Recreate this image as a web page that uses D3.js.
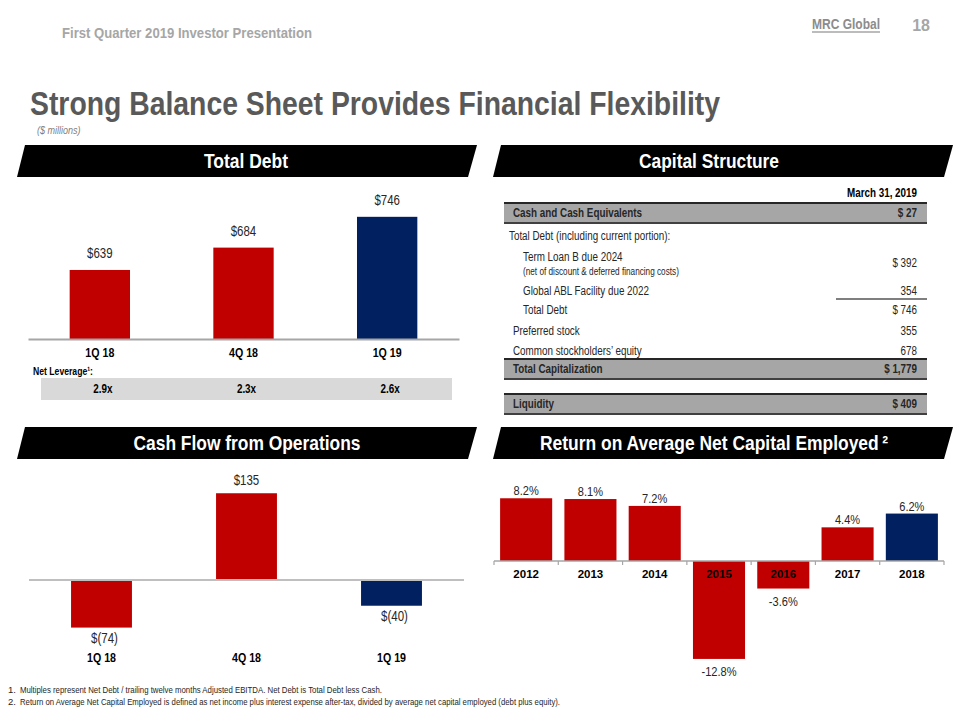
<!DOCTYPE html>
<html><head><meta charset="utf-8">
<script src="https://cdn.jsdelivr.net/npm/d3@7"></script>
<style>
body{margin:0;background:#fff;}
svg{display:block;font-family:"Liberation Sans",Arial,sans-serif;}
</style></head>
<body>
<svg id="c" width="960" height="720"></svg>
<script>
// ---------- data ----------
const debtCats = ["1Q 18", "4Q 18", "1Q 19"];
const debtValues = [639, 684, 746];
const debtLabels = ["$639", "$684", "$746"];
const leverageLabels = ["2.9x", "2.3x", "2.6x"];

const cfoCats = ["1Q 18", "4Q 18", "1Q 19"];
const cfoValues = [-74, 135, -40];
const cfoLabels = ["$(74)", "$135", "$(40)"];

const roYears = ["2012", "2013", "2014", "2015", "2016", "2017", "2018"];
const roValues = [8.2, 8.1, 7.2, -12.8, -3.6, 4.4, 6.2];

const capLabels = ["Cash and Cash Equivalents", "Total Debt (including current portion):", "Term Loan B due 2024",
  "Global ABL Facility due 2022", "Total Debt", "Preferred stock", "Common stockholders’ equity", "Total Capitalization", "Liquidity"];
const capValues = ["$ 27", "", "$ 392", "354", "$ 746", "355", "678", "$ 1,779", "$ 409"];
const capNote = "(net of discount & deferred financing costs)";
const capDate = "March 31, 2019";

const footnotes = [
  "Multiples represent Net Debt / trailing twelve months Adjusted EBITDA. Net Debt is Total Debt less Cash.",
  "Return on Average Net Capital Employed is defined as net income plus interest expense after-tax, divided by average net capital employed (debt plus equity)."
];

// ---------- styles ----------
const RED = "#c00000", NAVY = "#002060";
const svg = d3.select("#c");
const colorFor = (i, n) => i === n - 1 ? NAVY : RED;
const FF = "Liberation Sans, Arial, sans-serif";

// ---------- header ----------
svg.append("text").attr("x", 62).attr("y", 38).attr("font-size", 15).attr("font-weight", "bold")
  .attr("fill", "#a6a6a6").attr("textLength", 250).attr("lengthAdjust", "spacingAndGlyphs")
  .text("First Quarter 2019 Investor Presentation");
svg.append("text").attr("x", 812).attr("y", 29).attr("font-size", 15).attr("font-weight", "bold")
  .attr("fill", "#8c8c8c").attr("textLength", 68).attr("lengthAdjust", "spacingAndGlyphs").text("MRC Global");
svg.append("line").attr("x1", 812).attr("x2", 880).attr("y1", 32).attr("y2", 32).attr("stroke", "#a6a6a6").attr("stroke-width", 1.5);
svg.append("text").attr("x", 930).attr("y", 31).attr("font-size", 16).attr("font-weight", "bold")
  .attr("fill", "#a6a6a6").attr("text-anchor", "end").attr("class", "wide").text("18");

svg.append("text").attr("x", 30).attr("y", 115).attr("font-size", 34).attr("font-weight", "bold")
  .attr("fill", "#595959").attr("textLength", 690).attr("lengthAdjust", "spacingAndGlyphs")
  .text("Strong Balance Sheet Provides Financial Flexibility");
svg.append("text").attr("x", 37).attr("y", 134).attr("font-size", 11).attr("font-style", "italic")
  .attr("fill", "#7f7f7f").text("($ millions)");

// ---------- section headers ----------
function header(x0, y0, txt, cx, tw) {
  const pts = [[x0 + 8, y0], [x0 + 460, y0], [x0 + 451, y0 + 32], [x0, y0 + 32]];
  svg.append("polygon").attr("points", pts.map(p => p.join(",")).join(" ")).attr("fill", "#000");
  svg.append("text").attr("x", cx).attr("y", y0 + 23).attr("fill", "#fff").attr("text-anchor", "middle")
    .attr("font-size", 21).attr("font-weight", "bold")
    .attr("textLength", tw).attr("lengthAdjust", "spacingAndGlyphs").text(txt);
}
header(17, 145, "Total Debt", 246, 84);
header(493, 145, "Capital Structure", 709, 140);
header(17, 427, "Cash Flow from Operations", 247, 227);
header(493, 427, "Return on Average Net Capital Employed\u2009\u00b2", 714, 348);

// ---------- Total Debt ----------
{
  const x = d3.scaleBand().domain(debtCats).range([28, 459]).paddingInner(0.58).paddingOuter(0.29);
  const y = d3.scaleLinear().domain([500, 800]).range([339, 190]);
  const g = svg.append("g");
  g.selectAll("rect").data(debtValues).join("rect")
    .attr("x", (d, i) => x(debtCats[i])).attr("width", x.bandwidth())
    .attr("y", d => y(d)).attr("height", d => y(500) - y(d))
    .attr("fill", (d, i) => colorFor(i, debtValues.length));
  g.selectAll("text.v").data(debtValues).join("text").attr("class", "v")
    .attr("x", (d, i) => x(debtCats[i]) + x.bandwidth() / 2).attr("y", d => y(d) - 12)
    .attr("text-anchor", "middle").attr("font-size", 14).attr("fill", "#262626")
    .text((d, i) => debtLabels[i]);
  const ax = g.append("g").attr("transform", "translate(0,339)")
    .call(d3.axisBottom(x).tickSize(0).tickPadding(9));
  ax.select(".domain").attr("stroke", "#a6a6a6").attr("stroke-width", 2);
  ax.selectAll("text").attr("font-size", 13).attr("font-weight", "bold").attr("fill", "#000").attr("font-family", FF);
  svg.append("text").attr("x", 33).attr("y", 375).attr("font-size", 11).attr("font-weight", "bold").attr("fill", "#000")
    .attr("textLength", 60).attr("lengthAdjust", "spacingAndGlyphs").text("Net Leverage\u00b9:");
  svg.append("rect").attr("x", 41).attr("y", 378).attr("width", 411).attr("height", 22).attr("fill", "#d9d9d9");
  svg.selectAll("text.lev").data(leverageLabels).join("text").attr("class", "lev")
    .attr("x", (d, i) => x(debtCats[i]) + x.bandwidth() / 2 + 3).attr("y", 393)
    .attr("text-anchor", "middle").attr("font-size", 12).attr("font-weight", "bold").attr("fill", "#000").text(d => d);
}

// ---------- Capital Structure table ----------
{
  const L = 504, R = 927, VX = 917;
  const g = svg.append("g").attr("font-size", 12).attr("fill", "#262626");
  g.append("text").attr("x", VX).attr("y", 197).attr("text-anchor", "end").attr("font-weight", "bold").attr("fill", "#000").text(capDate);
  // row layout: [center y, indent x, bold, band]
  const layout = [[213, 513, true, true], [236, 509, false, false], [257, 523, false, false], [291, 523, false, false],
    [310, 523, false, false], [331, 513, false, false], [351, 513, false, false], [369, 513, true, true], [404, 513, true, true]];
  const valY = [213, 0, 263, 291, 310, 331, 351, 369, 404];
  layout.forEach((r, i) => {
    if (r[3]) {
      g.append("rect").attr("x", L).attr("y", r[0] - 10).attr("width", R - L).attr("height", 20).attr("fill", "#a6a6a6");
      g.append("line").attr("x1", L).attr("x2", R).attr("y1", r[0] - 10).attr("y2", r[0] - 10).attr("stroke", "#262626").attr("stroke-width", 2);
      g.append("line").attr("x1", L).attr("x2", R).attr("y1", r[0] + 10).attr("y2", r[0] + 10).attr("stroke", "#404040").attr("stroke-width", 2);
    }
    g.append("text").attr("x", r[1]).attr("y", r[0] + 4).attr("font-weight", r[2] ? "bold" : "normal").text(capLabels[i]);
    if (capValues[i]) g.append("text").attr("x", VX).attr("y", valY[i] + 4).attr("text-anchor", "end")
      .attr("font-weight", r[2] ? "bold" : "normal").text(capValues[i]);
  });
  g.append("text").attr("x", 523).attr("y", 275).attr("font-size", 10).text(capNote);
  g.append("line").attr("x1", 836).attr("x2", R).attr("y1", 299).attr("y2", 299).attr("stroke", "#000").attr("stroke-width", 1.2);
}

// ---------- Cash Flow from Operations ----------
{
  const x = d3.scaleBand().domain(cfoCats).range([29, 464]).paddingInner(0.58).paddingOuter(0.29);
  const y = d3.scaleLinear().domain([-100, 150]).range([644.3, 483.6]);
  const g = svg.append("g");
  g.selectAll("rect").data(cfoValues).join("rect")
    .attr("x", (d, i) => x(cfoCats[i])).attr("width", x.bandwidth())
    .attr("y", d => y(Math.max(0, d))).attr("height", d => Math.abs(y(d) - y(0)))
    .attr("fill", (d, i) => colorFor(i, cfoValues.length));
  g.append("line").attr("x1", 29).attr("x2", 464).attr("y1", y(0)).attr("y2", y(0)).attr("stroke", "#bfbfbf").attr("stroke-width", 2);
  g.selectAll("text.v").data(cfoValues).join("text").attr("class", "v")
    .attr("x", (d, i) => x(cfoCats[i]) + x.bandwidth() / 2 + (d < 0 ? 3 : 0))
    .attr("y", d => d >= 0 ? y(d) - 8 : y(d) + 15)
    .attr("text-anchor", "middle").attr("font-size", 14).attr("fill", "#262626")
    .text((d, i) => cfoLabels[i]);
  const ax = g.append("g").attr("transform", "translate(0,644)")
    .call(d3.axisBottom(x).tickSize(0).tickPadding(9));
  ax.select(".domain").remove();
  ax.selectAll("text").attr("font-size", 13).attr("font-weight", "bold").attr("fill", "#000").attr("font-family", FF);
}

// ---------- ROANCE ----------
{
  const x = d3.scaleBand().domain(roYears).range([494, 944]).paddingInner(0.19).paddingOuter(0.095);
  const y = d3.scaleLinear().domain([-14, 10]).range([668.1, 484.5]);
  const g = svg.append("g");
  g.selectAll("rect").data(roValues).join("rect")
    .attr("x", (d, i) => x(roYears[i])).attr("width", x.bandwidth())
    .attr("y", d => y(Math.max(0, d))).attr("height", d => Math.abs(y(d) - y(0)))
    .attr("fill", (d, i) => colorFor(i, roValues.length));
  const bounds = d3.range(roYears.length + 1).map(i => 494 + i * (450 / roYears.length));
  g.append("line").attr("x1", 494).attr("x2", 944).attr("y1", y(0)).attr("y2", y(0)).attr("stroke", "#a6a6a6").attr("stroke-width", 1.5);
  g.selectAll("line.t").data(bounds).join("line").attr("class", "t")
    .attr("x1", d => d).attr("x2", d => d).attr("y1", y(0)).attr("y2", y(0) + 4).attr("stroke", "#a6a6a6").attr("stroke-width", 1.2);
  g.selectAll("text.v").data(roValues).join("text").attr("class", "v")
    .attr("x", (d, i) => x(roYears[i]) + x.bandwidth() / 2)
    .attr("y", d => d >= 0 ? y(d) - 3 : y(d) + 17)
    .attr("text-anchor", "middle").attr("font-size", 13.5).attr("fill", "#262626")
    .text(d => d.toFixed(1) + "%");
  g.selectAll("text.c").data(roYears).join("text").attr("class", "c wide")
    .attr("x", d => x(d) + x.bandwidth() / 2).attr("y", y(0) + 17)
    .attr("text-anchor", "middle").attr("font-size", 11.5).attr("font-weight", "bold").attr("fill", "#000")
    .text(d => d);
}

// ---------- footnotes ----------
const fw = [362, 540];
footnotes.forEach((t, i) => {
  const yy = 693 + i * 12;
  svg.append("text").attr("x", 8).attr("y", yy).attr("font-size", 9.5).attr("fill", "#262626").attr("class", "wide").text((i + 1) + ".");
  svg.append("text").attr("x", 20).attr("y", yy).attr("font-size", 9.5).attr("fill", "#262626")
    .attr("textLength", fw[i]).attr("lengthAdjust", "spacingAndGlyphs").text(t);
});

// ---------- narrow (condensed) look: compress text horizontally ----------
svg.selectAll("text").each(function () {
  if (this.hasAttribute("textLength") || this.classList.contains("wide")) return;
  const len = this.getComputedTextLength();
  this.setAttribute("textLength", (len * 0.82).toFixed(1));
  this.setAttribute("lengthAdjust", "spacingAndGlyphs");
});
</script>
</body></html>
